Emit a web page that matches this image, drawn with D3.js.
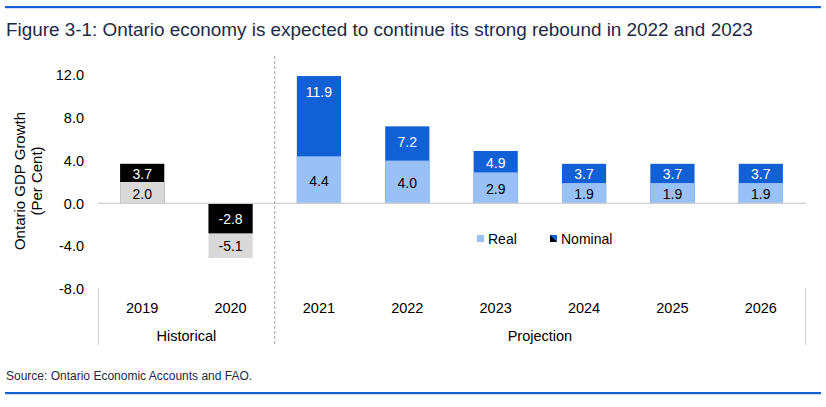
<!DOCTYPE html>
<html><head><meta charset="utf-8">
<script src="https://cdn.jsdelivr.net/npm/d3@7"></script>
<style>body{margin:0;background:#fff;font-family:"Liberation Sans",Arial,sans-serif}</style>
</head><body>
<svg id="c" width="826" height="407"></svg>
<script>
const years = ["2019","2020","2021","2022","2023","2024","2025","2026"];
const realValues = [2.0,-5.1,4.4,4.0,2.9,1.9,1.9,1.9];
const nominalValues = [3.7,-2.8,11.9,7.2,4.9,3.7,3.7,3.7];
const historicalFlags = [true,true,false,false,false,false,false,false];
const yTicks = [12,8,4,0,-4,-8];
const groups = [{name:"Historical", from:"2019", to:"2020"},{name:"Projection", from:"2021", to:"2026"}];
const legendItems = ["Real","Nominal"];
const title = "Figure 3-1: Ontario economy is expected to continue its strong rebound in 2022 and 2023";
const source = "Source: Ontario Economic Accounts and FAO.";

const svg = d3.select("#c");
const navy = "#1c2b45", rule = "#1660d3";
const cNom = "#1160d6", cReal = "#9ac1f6", cHNom = "#000000", cHReal = "#d9d9d9";
const fmt = v => d3.format(".1f")(v).replace("\u2212","-");

svg.append("rect").attr("x",5).attr("y",6).attr("width",816).attr("height",2.2).attr("fill",rule);
svg.append("rect").attr("x",5).attr("y",392).attr("width",816).attr("height",2.2).attr("fill",rule);
svg.append("text").attr("x",6).attr("y",36).attr("font-size",18.9).attr("fill",navy).text(title);
svg.append("text").attr("x",6).attr("y",380).attr("font-size",12).attr("fill",navy).text(source);

const x = d3.scaleBand().domain(years).range([98,805]).paddingInner(0.5).paddingOuter(0.25);
const y = d3.scaleLinear().domain([-8,12]).range([289,75]);

// y axis labels
const yAxis = d3.axisLeft(y).tickValues(yTicks).tickFormat(fmt).tickSize(0).tickPadding(0);
const ga = svg.append("g").attr("transform","translate(84,0)").call(yAxis);
ga.select(".domain").remove();
ga.selectAll("text").attr("font-size",14.5).attr("fill","#000").attr("font-family","Liberation Sans, Arial, sans-serif");

svg.append("text").attr("transform","translate(25,181) rotate(-90)").attr("text-anchor","middle")
  .attr("font-size",15).attr("fill","#000").text("Ontario GDP Growth");
svg.append("text").attr("transform","translate(42,181) rotate(-90)").attr("text-anchor","middle")
  .attr("font-size",15).attr("fill","#000").text("(Per Cent)");

// bars
const data = years.map((yr,i)=>({yr, real:realValues[i], nom:nominalValues[i], hist:historicalFlags[i]}));
const bw = x.bandwidth();
data.forEach(d=>{
  const big = Math.abs(d.nom) >= Math.abs(d.real) ? "nom" : "real";
  const small = big==="nom" ? "real" : "nom";
  const col = k => d.hist ? (k==="nom"?cHNom:cHReal) : (k==="nom"?cNom:cReal);
  [big, small].forEach(k=>{
    const v = d[k];
    svg.append("rect").attr("x",x(d.yr)).attr("width",bw)
      .attr("y",Math.min(y(v),y(0))).attr("height",Math.abs(y(v)-y(0)))
      .attr("fill",col(k));
  });
  const vb = d[big], vs = d[small];
  const segBigCenter = (y(vb)+y(vs))/2;
  const sign = vb>=0 ? 1 : -1;
  const bigPos = sign>0 ? Math.min(y(vb)+16, segBigCenter+1) : Math.max(y(vb)-15, segBigCenter);
  const smallPos = (y(vs)+y(0))/2 + 1;
  const txtCol = k => (k==="nom") ? "#fff" : "#000";
  [[big,bigPos,vb],[small,smallPos,vs]].forEach(([k,p,v])=>{
    svg.append("text").attr("x",x(d.yr)+bw/2).attr("y",p).attr("dy","0.35em")
      .attr("text-anchor","middle").attr("font-size",14).attr("fill",txtCol(k)).text(fmt(v));
  });
});

// zero line
svg.append("line").attr("x1",98).attr("x2",806).attr("y1",y(0)).attr("y2",y(0)).attr("stroke","#d0d0d0").attr("stroke-width",1.2);

// x labels
years.forEach(yr=>{
  svg.append("text").attr("x",x(yr)+bw/2).attr("y",312.5).attr("text-anchor","middle").attr("font-size",14.5).attr("fill","#000").text(yr);
});
groups.forEach(g=>{
  const cx = (x(g.from)+x(g.to)+bw)/2;
  svg.append("text").attr("x",cx).attr("y",340.5).attr("text-anchor","middle").attr("font-size",14.5).attr("fill","#000").text(g.name);
});
// separators
const sepX = (x("2020")+bw + x("2021"))/2;
svg.append("line").attr("x1",98.5).attr("x2",98.5).attr("y1",288).attr("y2",345).attr("stroke","#d0d0d0");
svg.append("line").attr("x1",805.5).attr("x2",805.5).attr("y1",288).attr("y2",345).attr("stroke","#d0d0d0");
svg.append("line").attr("x1",sepX).attr("x2",sepX).attr("y1",56).attr("y2",345).attr("stroke","#a0a0a0").attr("stroke-dasharray","3,2");

// legend
const lg = svg.append("g");
lg.append("rect").attr("x",477).attr("y",235).attr("width",7).attr("height",7).attr("fill",cReal);
lg.append("text").attr("x",488).attr("y",244).attr("font-size",14).attr("fill","#000").text(legendItems[0]);
lg.append("rect").attr("x",550).attr("y",235).attr("width",7).attr("height",7).attr("fill",cNom);
lg.append("path").attr("d","M550,235 L557,242 L550,242 Z").attr("fill","#000");
lg.append("text").attr("x",561).attr("y",244).attr("font-size",14).attr("fill","#000").text(legendItems[1]);
</script>
</body></html>
